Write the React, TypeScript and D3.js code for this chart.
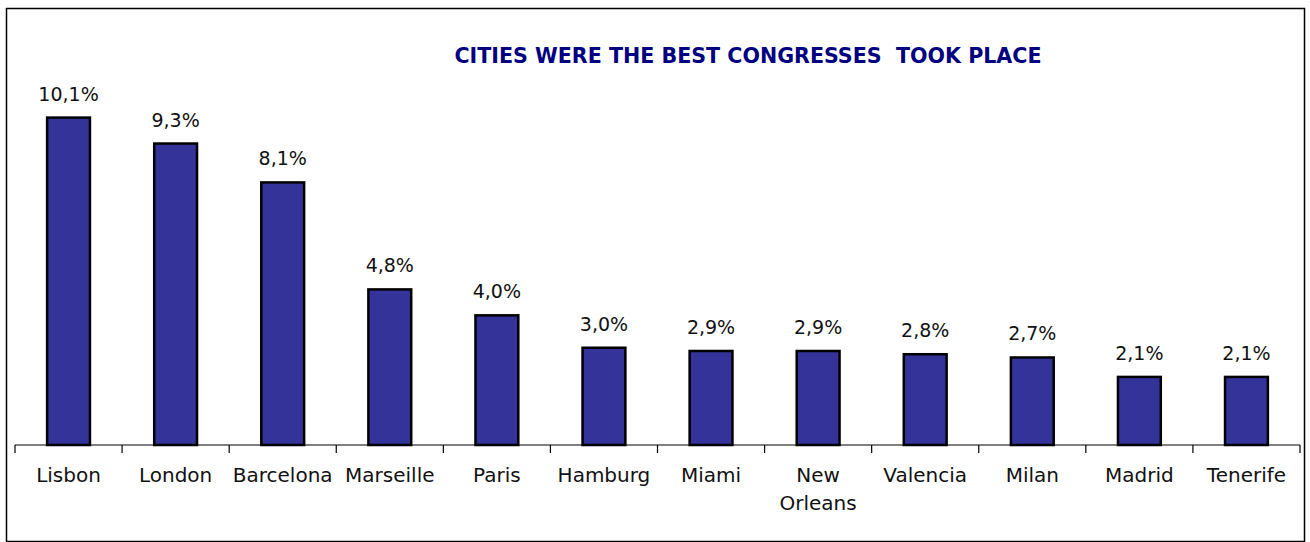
import React, { useEffect, useRef } from 'react';
import * as d3 from 'd3';

const cities = ['Lisbon', 'London', 'Barcelona', 'Marseille', 'Paris', 'Hamburg', 'Miami', 'New Orleans', 'Valencia', 'Milan', 'Madrid', 'Tenerife'];
const shares = [10.1, 9.3, 8.1, 4.8, 4.0, 3.0, 2.9, 2.9, 2.8, 2.7, 2.1, 2.1];
const title = 'CITIES WERE THE BEST CONGRESSES  TOOK PLACE';

export default function App() {
  const ref = useRef<SVGSVGElement>(null);

  useEffect(() => {
    if (!ref.current) return;
    const font = 'Tahoma, "DejaVu Sans", sans-serif';

    const svg = d3.select(ref.current);
    svg.selectAll('*').remove();

    // frame
    svg.append('rect')
      .attr('x', 6.5).attr('y', 8.5)
      .attr('width', 1298).attr('height', 533)
      .attr('fill', 'white')
      .attr('stroke', '#000')
      .attr('stroke-width', 1.5);

    const x = d3.scaleBand<string>()
      .domain(cities)
      .range([15, 1300])
      .paddingInner(0)
      .paddingOuter(0);

    const y = d3.scaleLinear().domain([0, 12]).range([445, 56]);

    const bw = x.bandwidth() * 0.4;

    svg.append('text')
      .attr('x', 748)
      .attr('y', 63)
      .attr('text-anchor', 'middle')
      .attr('font-family', '"Liberation Sans Narrow", "DejaVu Sans Condensed", "Liberation Sans", sans-serif')
      .attr('font-weight', 'bold')
      .attr('font-size', 22)
      .attr('fill', '#000080')
      .attr('textLength', 587)
      .attr('lengthAdjust', 'spacingAndGlyphs')
      .style('white-space', 'pre')
      .text(title);

    const g = svg.append('g');

    g.selectAll('rect.bar')
      .data(shares)
      .enter()
      .append('rect')
      .attr('class', 'bar')
      .attr('x', (d, i) => (x(cities[i]) as number) + (x.bandwidth() - bw) / 2)
      .attr('y', d => y(d))
      .attr('width', bw)
      .attr('height', d => y(0) - y(d))
      .attr('fill', '#333399')
      .attr('stroke', '#000')
      .attr('stroke-width', 2.5);

    // value labels
    g.selectAll('text.val')
      .data(shares)
      .enter()
      .append('text')
      .attr('class', 'val')
      .attr('x', (d, i) => (x(cities[i]) as number) + x.bandwidth() / 2)
      .attr('y', d => y(d) - 17)
      .attr('text-anchor', 'middle')
      .attr('font-family', font)
      .attr('font-size', 19)
      .attr('fill', '#111')
      .text(d => d.toFixed(1).replace('.', ',') + '%');

    // axis line and ticks
    g.append('line')
      .attr('x1', 15).attr('x2', 1300)
      .attr('y1', y(0)).attr('y2', y(0))
      .attr('stroke', '#000').attr('stroke-width', 1.2);

    const tickPos = cities.map(c => x(c) as number).concat([x.range()[1]]);
    g.selectAll('line.tick')
      .data(tickPos)
      .enter()
      .append('line')
      .attr('class', 'tick')
      .attr('x1', d => d).attr('x2', d => d)
      .attr('y1', y(0)).attr('y2', y(0) + 8)
      .attr('stroke', '#000').attr('stroke-width', 1.2);

    // category labels
    const cat = g.selectAll('text.cat')
      .data(cities)
      .enter()
      .append('text')
      .attr('class', 'cat')
      .attr('x', d => (x(d) as number) + x.bandwidth() / 2)
      .attr('y', 482)
      .attr('text-anchor', 'middle')
      .attr('font-family', font)
      .attr('font-size', 20)
      .attr('fill', '#111');

    cat.each(function (d) {
      const words = d === 'New Orleans' ? ['New', 'Orleans'] : [d];
      const t = d3.select(this);
      words.forEach((w, k) => {
        t.append('tspan')
          .attr('x', (x(d) as number) + x.bandwidth() / 2)
          .attr('dy', k === 0 ? 0 : 28)
          .text(w);
      });
    });
  }, []);

  return (
    <svg
      ref={ref}
      width={1310}
      height={542}
      style={{ position: 'absolute', left: 0, top: 0, background: 'white' }}
    />
  );
}
